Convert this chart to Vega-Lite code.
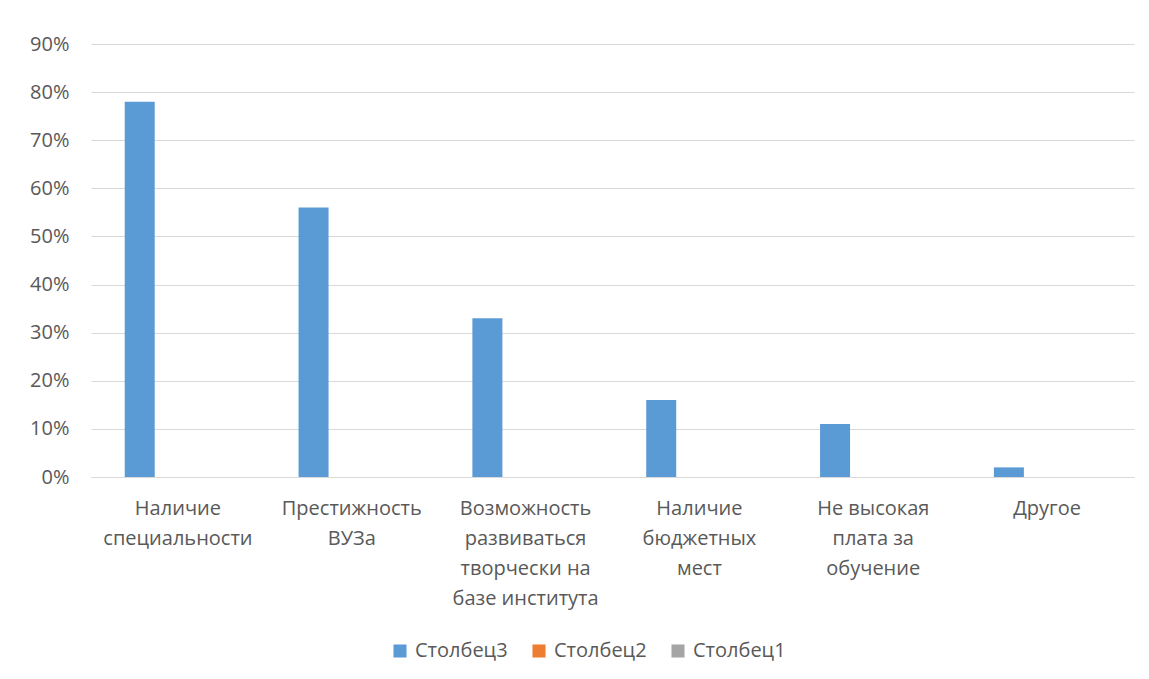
{
  "$schema": "https://vega.github.io/schema/vega-lite/v6.json",
  "width": 1043,
  "height": 433,
  "autosize": {"type": "none"},
  "padding": {"left": 91, "top": 44, "right": 15, "bottom": 202},
  "background": "white",
  "data": {
    "values": [
      {"cat": "Наличие специальности", "series": "Столбец3", "value": 0.78},
      {"cat": "Наличие специальности", "series": "Столбец2", "value": 0},
      {"cat": "Наличие специальности", "series": "Столбец1", "value": 0},
      {"cat": "Престижность ВУЗа", "series": "Столбец3", "value": 0.56},
      {"cat": "Престижность ВУЗа", "series": "Столбец2", "value": 0},
      {"cat": "Престижность ВУЗа", "series": "Столбец1", "value": 0},
      {"cat": "Возможность развиваться творчески на базе института", "series": "Столбец3", "value": 0.33},
      {"cat": "Возможность развиваться творчески на базе института", "series": "Столбец2", "value": 0},
      {"cat": "Возможность развиваться творчески на базе института", "series": "Столбец1", "value": 0},
      {"cat": "Наличие бюджетных мест", "series": "Столбец3", "value": 0.16},
      {"cat": "Наличие бюджетных мест", "series": "Столбец2", "value": 0},
      {"cat": "Наличие бюджетных мест", "series": "Столбец1", "value": 0},
      {"cat": "Не высокая плата за обучение", "series": "Столбец3", "value": 0.11},
      {"cat": "Не высокая плата за обучение", "series": "Столбец2", "value": 0},
      {"cat": "Не высокая плата за обучение", "series": "Столбец1", "value": 0},
      {"cat": "Другое", "series": "Столбец3", "value": 0.02},
      {"cat": "Другое", "series": "Столбец2", "value": 0},
      {"cat": "Другое", "series": "Столбец1", "value": 0}
    ]
  },
  "mark": {"type": "bar"},
  "encoding": {
    "x": {
      "field": "cat",
      "type": "nominal",
      "sort": null,
      "scale": {"paddingInner": 0.48, "paddingOuter": 0.24},
      "axis": {
        "title": null,
        "labelAngle": 0,
        "ticks": false,
        "domain": true,
        "domainColor": "#d9d9d9",
        "domainWidth": 1,
        "labelFont": "Open Sans",
        "labelFontSize": 20,
        "labelColor": "#595959",
        "labelPadding": 31,
        "labelBaseline": "middle",
        "labelLineHeight": 30,
        "labelLimit": 0,
        "labelExpr": "datum.label == 'Наличие специальности' ? ['Наличие', 'специальности'] : datum.label == 'Престижность ВУЗа' ? ['Престижность', 'ВУЗа'] : datum.label == 'Возможность развиваться творчески на базе института' ? ['Возможность', 'развиваться', 'творчески на', 'базе института'] : datum.label == 'Наличие бюджетных мест' ? ['Наличие', 'бюджетных', 'мест'] : datum.label == 'Не высокая плата за обучение' ? ['Не высокая', 'плата за', 'обучение'] : datum.label"
      }
    },
    "xOffset": {
      "field": "series",
      "type": "nominal",
      "sort": ["Столбец3", "Столбец2", "Столбец1"],
      "scale": {"paddingInner": 0, "paddingOuter": 0, "range": [-8, 82]}
    },
    "y": {
      "field": "value",
      "type": "quantitative",
      "scale": {"domain": [0, 0.9], "nice": false},
      "axis": {
        "title": null,
        "format": ".0%",
        "values": [0, 0.1, 0.2, 0.3, 0.4, 0.5, 0.6, 0.7, 0.8, 0.9],
        "ticks": false,
        "domain": false,
        "grid": true,
        "gridColor": "#d9d9d9",
        "gridWidth": 1,
        "labelFont": "Open Sans",
        "labelFontSize": 20,
        "labelColor": "#595959",
        "labelPadding": 22
      }
    },
    "color": {
      "field": "series",
      "type": "nominal",
      "sort": ["Столбец3", "Столбец2", "Столбец1"],
      "scale": {"domain": ["Столбец3", "Столбец2", "Столбец1"], "range": ["#5B9BD5", "#ED7D31", "#A5A5A5"]},
      "legend": {
        "title": null,
        "orient": "none",
        "direction": "horizontal",
        "legendX": 299,
        "legendY": 597,
        "symbolType": "square",
        "symbolSize": 170,
        "symbolStrokeWidth": 0,
        "labelFont": "Open Sans",
        "labelFontSize": 20,
        "labelColor": "#595959",
        "labelOffset": 5,
        "columnPadding": 21
      }
    }
  },
  "config": {
    "view": {"stroke": null}
  }
}
